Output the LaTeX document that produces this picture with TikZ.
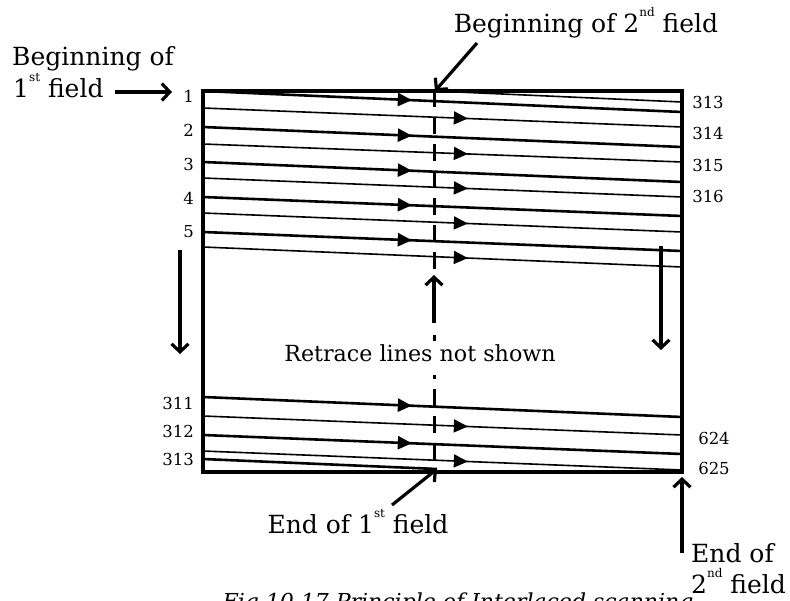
\documentclass[tikz,border=0pt]{standalone}
\usepackage{fontspec}
\setmainfont{DejaVu Serif}
\usetikzlibrary{arrows.meta,decorations.markings}
\newcommand\myup[1]{\raisebox{0.62em}{\fontsize{12}{12}\selectfont #1}}
\begin{document}
\begin{tikzpicture}[x=1pt,y=-1pt,
  frame/.style={line width=3.4pt},
  thickscan/.style={line width=2.6pt},
  thinscan/.style={line width=1.6pt},
  tipA/.style={postaction={decorate},decoration={markings,mark=at position 0.436 with {\arrow{Triangle[length=14pt,width=13pt]}}}},
  tipB/.style={postaction={decorate},decoration={markings,mark=at position 0.553 with {\arrow{Triangle[length=14pt,width=13pt]}}}},
  vdash/.style={line width=3pt,dash pattern=on 17pt off 10pt},
  vseg/.style={line width=3pt},
  bigarrow/.style={line width=3.2pt,-{Straight Barb[length=8pt,width=17pt]}},
  txt/.style={inner sep=0pt,font=\fontsize{25}{29}\selectfont},
  rtxt/.style={inner sep=0pt,font=\fontsize{22.2}{26}\selectfont},
  numlab/.style={inner sep=0pt,font=\fontsize{16.5}{19}\selectfont},
  captxt/.style={inner sep=0pt,font=\fontsize{22}{26}\selectfont\itshape}
]
\clip (0,0) rectangle (790,600);
\fill[white] (0,0) rectangle (790,600);

% frame
\draw[frame] (203,91) rectangle (682,472);

% first field scan lines (thick)
\foreach \a/\b [count=\i] in {91/112,127/147,162/182,197/216,232/251,397/417,435/454}
  \draw[thickscan,tipA] (203,\a) coordinate (tl\i) -- (682,\b) coordinate (tr\i);
% second field scan lines (thin)
\foreach \a/\b [count=\i] in {108/127,144/162,178/197,213/232,247/267,416/435,451/470}
  \draw[thinscan,tipB] (203,\a) coordinate (sl\i) -- (682,\b) coordinate (sr\i);
% half lines
\coordinate (mtop) at (435,91);
\coordinate (htr) at (682,102);
\draw[thinscan] (mtop) -- (htr);
\coordinate (hbl) at (203,459);
\coordinate (mbot) at (437,469);
\draw[thickscan] (hbl) -- (mbot);

% vertical dashed line
\coordinate (v1) at (434,90);
\coordinate (v2) at (434,272);
\draw[vdash] (v1) -- (v2);
\coordinate (va) at (434,323);
\coordinate (vb) at (434,275);
\draw[bigarrow] (va) -- (vb);
\coordinate (v3) at (434,335);
\coordinate (v4) at (434,341);
\draw[vseg] (v3) -- (v4);
\coordinate (v5) at (434,375);
\coordinate (v6) at (434,379);
\draw[vseg] (v5) -- (v6);
\coordinate (v7) at (434,389);
\coordinate (v8) at (434,461);
\draw[vdash] (v7) -- (v8);

% left numbers
\foreach \n/\y in {1/96,2/130,3/164,4/198,5/232,311/403,312/431,313/459}
  \node[numlab,anchor=east] (ln\n) at (194,\y) {\n};
% right numbers
\foreach \n/\y in {313/102,314/133,315/165,316/196}
  \node[numlab] (rn\n) at (708,\y) {\n};
\foreach \n/\y in {624/438,625/468}
  \node[numlab] (rn\n) at (714,\y) {\n};

% down arrows
\coordinate (la1) at (180,250);
\coordinate (la2) at (180,354);
\draw[bigarrow] (la1) -- (la2);
\coordinate (ra1) at (661,246);
\coordinate (ra2) at (661,350);
\draw[bigarrow] (ra1) -- (ra2);

% texts
\node[txt,anchor=base west] (b1a) at (12,65) {Beginning of};
\node[txt,anchor=base west] (b1b) at (13,97) {1\myup{st} field};
\coordinate (b1s) at (115,92);
\coordinate (b1e) at (172,92);
\draw[bigarrow] (b1s) -- (b1e);

\node[txt,anchor=base] (b2) at (586,32) {Beginning of 2\myup{nd} field};
\coordinate (b2s) at (477,43);
\draw[bigarrow] (b2s) -- (mtop);

\node[rtxt,anchor=base] (rt) at (420,361) {Retrace lines not shown};

\node[txt,anchor=base] (e1) at (358,533) {End of 1\myup{st} field};
\coordinate (e1s) at (392,505);
\draw[bigarrow] (e1s) -- (mbot);

\node[txt,anchor=base west] (e2a) at (691,562) {End of};
\node[txt,anchor=base west] (e2b) at (691,593) {2\myup{nd} field};
\coordinate (e2s) at (682,553);
\coordinate (e2e) at (682,477);
\draw[bigarrow] (e2s) -- (e2e);

\node[captxt,anchor=base] (cap) at (458,609) {Fig 10.17 Principle of Interlaced scanning};
\end{tikzpicture}
\end{document}
